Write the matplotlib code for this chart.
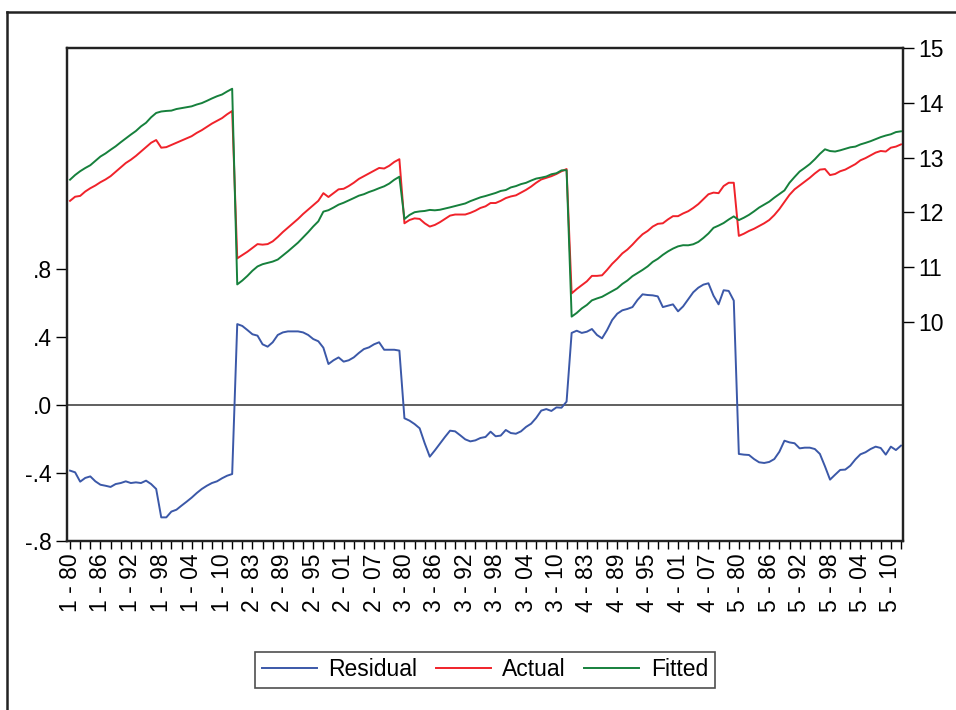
import matplotlib
matplotlib.use("Agg")
import matplotlib.pyplot as plt
from matplotlib.lines import Line2D
import numpy as np

plt.rcParams['font.family'] = ['Liberation Sans', 'DejaVu Sans']

# panel: 5 cross-sections, annual 1980-2012
sections = [1, 2, 3, 4, 5]
years = list(range(1980, 2013))

actual = [
    # section 1
    12.21, 12.285, 12.30, 12.38, 12.44, 12.49, 12.55, 12.60, 12.66, 12.74, 12.82,
    12.90, 12.96, 13.03, 13.11, 13.19, 13.27, 13.32, 13.18, 13.19, 13.23, 13.27,
    13.31, 13.35, 13.39, 13.45, 13.50, 13.56, 13.62, 13.67, 13.72, 13.79, 13.85,
    # section 2
    11.16, 11.22, 11.28, 11.35, 11.42, 11.41, 11.42, 11.47, 11.55, 11.64, 11.72,
    11.80, 11.88, 11.97, 12.05, 12.13, 12.21, 12.35, 12.28, 12.35, 12.42, 12.43,
    12.48, 12.54, 12.61, 12.66, 12.71, 12.76, 12.81, 12.80, 12.85, 12.92, 12.97,
    # section 3
    11.80, 11.86, 11.89, 11.88, 11.80, 11.74, 11.77, 11.82, 11.88, 11.94, 11.96,
    11.96, 11.96, 11.99, 12.03, 12.08, 12.11, 12.17, 12.17, 12.21, 12.26, 12.29,
    12.31, 12.36, 12.41, 12.47, 12.54, 12.60, 12.63, 12.66, 12.70, 12.75, 12.79,
    # section 4
    10.52, 10.60, 10.67, 10.74, 10.84, 10.84, 10.85, 10.95, 11.06, 11.15, 11.25,
    11.32, 11.41, 11.51, 11.60, 11.66, 11.74, 11.79, 11.80, 11.87, 11.93, 11.93,
    11.98, 12.02, 12.08, 12.15, 12.24, 12.33, 12.36, 12.35, 12.48, 12.54, 12.54,
    # section 5
    11.57, 11.61, 11.66, 11.70, 11.75, 11.80, 11.86, 11.95, 12.06, 12.19, 12.32,
    12.42, 12.49, 12.56, 12.63, 12.71, 12.78, 12.79, 12.68, 12.70, 12.75, 12.78,
    12.83, 12.88, 12.95, 12.99, 13.04, 13.09, 13.12, 13.11, 13.18, 13.20, 13.24,
]

residual = [
    # section 1
    -0.386, -0.396, -0.451, -0.429, -0.420, -0.449, -0.469, -0.475, -0.482, -0.465, -0.459,
    -0.449, -0.459, -0.455, -0.459, -0.445, -0.465, -0.494, -0.661, -0.661, -0.627, -0.616,
    -0.592, -0.569, -0.545, -0.518, -0.494, -0.475, -0.459, -0.449, -0.431, -0.416, -0.406,
    # section 2
    0.476, 0.465, 0.441, 0.416, 0.408, 0.357, 0.343, 0.369, 0.412, 0.427, 0.433,
    0.433, 0.433, 0.427, 0.412, 0.388, 0.375, 0.337, 0.241, 0.263, 0.280, 0.255,
    0.263, 0.280, 0.306, 0.329, 0.339, 0.357, 0.369, 0.325, 0.325, 0.325, 0.320,
    # section 3
    -0.078, -0.092, -0.112, -0.137, -0.225, -0.304, -0.267, -0.227, -0.188, -0.151, -0.155,
    -0.178, -0.202, -0.214, -0.208, -0.194, -0.188, -0.157, -0.184, -0.180, -0.147, -0.165,
    -0.169, -0.155, -0.129, -0.110, -0.076, -0.033, -0.024, -0.035, -0.014, -0.016, 0.020,
    # section 4
    0.424, 0.437, 0.424, 0.431, 0.447, 0.412, 0.392, 0.441, 0.500, 0.537, 0.557,
    0.565, 0.576, 0.618, 0.651, 0.647, 0.645, 0.639, 0.576, 0.584, 0.592, 0.551,
    0.580, 0.622, 0.663, 0.690, 0.708, 0.716, 0.643, 0.592, 0.675, 0.671, 0.614,
    # section 5
    -0.288, -0.292, -0.294, -0.318, -0.337, -0.341, -0.335, -0.318, -0.275, -0.210, -0.220,
    -0.225, -0.255, -0.251, -0.251, -0.259, -0.288, -0.361, -0.439, -0.410, -0.382, -0.380,
    -0.357, -0.320, -0.290, -0.278, -0.259, -0.245, -0.253, -0.292, -0.245, -0.265, -0.239,
]

actual = np.array(actual)
residual = np.array(residual)
fitted = actual - residual

labels = [f"{s} - {y % 100:02d}" for s in sections for y in years]
x = np.arange(len(labels))

fig = plt.figure(figsize=(9.56, 7.10), dpi=100)
ax = fig.add_axes([67 / 956, 1 - 541 / 710, 836 / 956, 493 / 710])
ax2 = ax.twinx()

blue = '#3B58A8'
red = '#F0222A'
green = '#16803C'

ax.axhline(0, color='#444444', lw=1.2, zorder=1)
l1, = ax.plot(x, residual, color=blue, lw=1.4, label='Residual')
l2, = ax2.plot(x, actual, color=red, lw=1.4, label='Actual')
l3, = ax2.plot(x, fitted, color=green, lw=1.4, label='Fitted')

ax.set_xlim(-0.6, 164.4)
ax.set_ylim(-0.8, 2.1)
ax2.set_ylim(6, 15)

ax.set_yticks([-0.8, -0.4, 0.0, 0.4, 0.8])
ax.set_yticklabels(['-.8', '-.4', '.0', '.4', '.8'])
ax2.set_yticks([10, 11, 12, 13, 14, 15])

ax.set_xticks(x[::6])
ax.set_xticklabels(labels[::6], rotation=90)
ax.set_xticks(x[::2], minor=True)

for a in (ax, ax2):
    for sp in a.spines.values():
        sp.set_linewidth(1.6)
        sp.set_color('#222222')
ax.tick_params(axis='x', which='both', direction='out', length=6, width=1, labelsize=16.5, pad=3)
ax.tick_params(axis='y', direction='out', length=8, width=1, labelsize=16.5, pad=3)
ax2.tick_params(axis='y', direction='out', length=8, width=1, labelsize=16.5, pad=3)

leg = fig.legend(handles=[l1, l2, l3], loc='center', bbox_to_anchor=(485 / 956, 1 - 670 / 710),
                 ncol=3, fontsize=16.5, frameon=True, fancybox=False, edgecolor='#222222',
                 handlelength=2.4, columnspacing=0.8, handletextpad=0.5, borderpad=0.3,
                 borderaxespad=0)
leg.get_frame().set_linewidth(1.2)

# outer border (left and top edges)
fig.add_artist(Line2D([7 / 956, 7 / 956], [0, 1 - 12 / 710], color='#222222', lw=1.8))
fig.add_artist(Line2D([7 / 956, 1], [1 - 12 / 710, 1 - 12 / 710], color='#222222', lw=1.8))

fig.savefig('out.png', dpi=100)
